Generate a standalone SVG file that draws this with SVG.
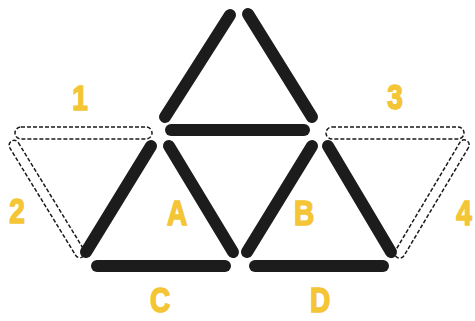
<svg xmlns="http://www.w3.org/2000/svg" width="475" height="321" viewBox="0 0 475 321">
<style>
.stick{stroke:#1c1c1c;stroke-width:12;stroke-linecap:round;fill:none}
.dash{fill:none;stroke:#1a1a1a;stroke-width:1.5;stroke-dasharray:4 2}
.lbl{font-family:"Liberation Sans",Arial,sans-serif;font-weight:bold;font-size:35px;fill:#F4C535;stroke:#F4C535;stroke-width:1.6;text-anchor:middle}
</style>
<rect width="475" height="321" fill="#fff"/>
<g id="connectors">
<g id="top-triangle">
<line class="stick" x1="230" y1="15" x2="165" y2="117"/>
<line class="stick" x1="248" y1="14" x2="312" y2="117"/>
<line class="stick" x1="171" y1="130" x2="304" y2="130"/>
</g>
<g id="triangle-A">
<line class="stick" x1="151" y1="146" x2="86" y2="252"/>
<line class="stick" x1="169" y1="146" x2="233" y2="252"/>
</g>
<g id="triangle-B">
<line class="stick" x1="312" y1="146" x2="247" y2="252"/>
<line class="stick" x1="328" y1="146" x2="391" y2="252"/>
</g>
<g id="stick-C"><line class="stick" x1="97" y1="266" x2="225" y2="266"/></g>
<g id="stick-D"><line class="stick" x1="255" y1="266" x2="383" y2="266"/></g>
</g>
<g id="dashed-1"><rect class="dash" x="15" y="127" width="137" height="12" rx="6"/></g>
<g id="dashed-2"><rect class="dash" x="-68" y="-5" width="136" height="10" rx="5" transform="translate(47,199) rotate(58.5)"/></g>
<g id="dashed-3"><rect class="dash" x="326" y="127" width="138" height="12" rx="6"/></g>
<g id="dashed-4"><rect class="dash" x="-68" y="-5" width="136" height="10" rx="5" transform="translate(432,199) rotate(120.8)"/></g>
<g id="labels">
<text class="lbl" x="80" y="110" transform="translate(80,0) scale(0.8,1) translate(-80,0)">1</text>
<text class="lbl" x="17" y="223" transform="translate(17,0) scale(0.8,1) translate(-17,0)">2</text>
<text class="lbl" x="395" y="109" transform="translate(395,0) scale(0.8,1) translate(-395,0)">3</text>
<text class="lbl" x="464" y="225" transform="translate(464,0) scale(0.8,1) translate(-464,0)">4</text>
<text class="lbl" x="177" y="225" transform="translate(177,0) scale(0.8,1) translate(-177,0)">A</text>
<text class="lbl" x="304" y="225" transform="translate(304,0) scale(0.8,1) translate(-304,0)">B</text>
<text class="lbl" x="160" y="312" transform="translate(160,0) scale(0.8,1) translate(-160,0)">C</text>
<text class="lbl" x="320" y="312" transform="translate(320,0) scale(0.8,1) translate(-320,0)">D</text>
</g>
</svg>
